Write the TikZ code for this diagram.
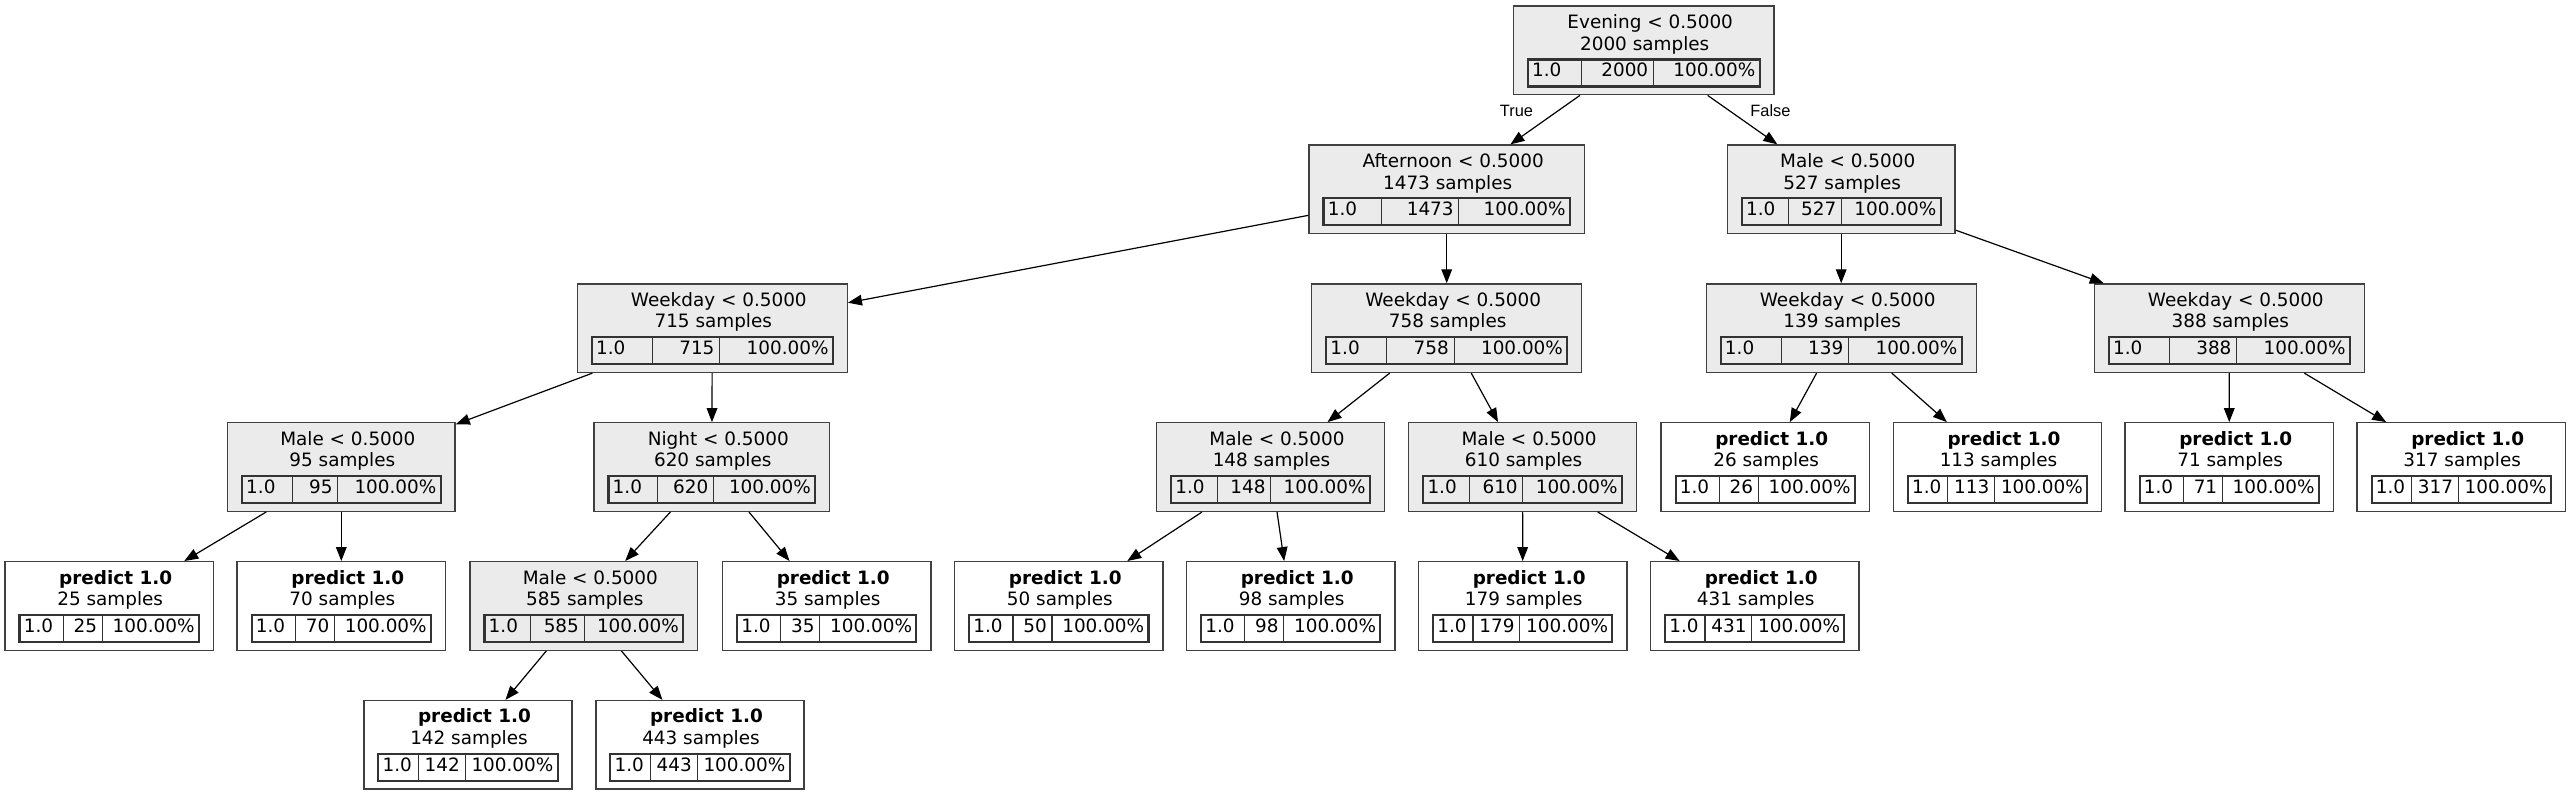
\documentclass[tikz,border=0pt]{standalone}
\usepackage{fontspec}
\setmainfont{DejaVu Sans}
\newfontfamily\edgefont{Liberation Sans}
\usetikzlibrary{arrows.meta, positioning, calc}

\newcommand{\treefont}{\fontsize{13.8pt}{16pt}\selectfont}
\newcommand{\empx}{18.4}% one em of \treefont, in pixels

% one box of the tree: name, style, x, level, width, title, count
\newcommand{\treebox}[7]{%
  \pgfmathsetmacro\ytop{-5.5-138.88*#4}
  \node[#2, minimum width=#5*0.75pt, anchor=north] (#1) at (#3,\ytop) {};
  % DejaVu digits are 0.636em wide
  \pgfmathsetmacro\wa{1.59*\empx}
  \pgfmathsetmacro\wb{(floor(log10(#7)+0.0001)+1)*0.636*\empx}
  \pgfmathsetmacro\wc{4.448*\empx}
  \pgfmathsetmacro\tabR{(#5-27)/2}
  \pgfmathsetmacro\tabL{-\tabR}
  \pgfmathsetmacro\cellx{(#5-27-\wa-\wb-\wc)/3}
  \pgfmathsetmacro\divA{\tabL+\wa+\cellx}
  \pgfmathsetmacro\divB{\divA+\wb+\cellx}
  \begin{scope}[shift={(#1.north)}]
    \node[txt] (#1-title) at (6.5,-23) {#6};
    \node[txt] (#1-n) at (1,-44.7) {#7 samples};
    \draw[cellrule] (\divA,-53) -- (\divA,-82) (\divB,-53) -- (\divB,-82);
    \draw[tabrule] (\tabL+1,-54) rectangle (\tabR-1,-81);
    \node[txt, anchor=base west] (#1-c1) at (\tabL+5,-71.5) {1.0};
    \node[txt, anchor=base east] (#1-c2) at (\divB-5,-71.5) {#7};
    \node[txt, anchor=base east] (#1-c3) at (\tabR-5,-71.5) {100.00\%};
  \end{scope}
}

\begin{document}
\begin{tikzpicture}[x=0.75pt, y=0.75pt,
    split/.style={rectangle, draw=black!75, line width=1pt, fill=black!8, minimum height=66.4pt, inner sep=0pt},
    leaf/.style={split, fill=white},
    txt/.style={inner sep=0pt, anchor=base, font=\treefont},
    tabrule/.style={draw=black!80, line width=1.6pt},
    cellrule/.style={draw=black!80, line width=0.8pt},
    arrowlink/.style={-{Triangle[length=10.5pt, width=8pt]}, line width=0.9pt},
    branch/.style={inner sep=0pt, anchor=base, font=\edgefont\fontsize{12.3pt}{14pt}\selectfont}]
  \path[fill=white, use as bounding box] (0,0) rectangle (2571,-795);

  % decision nodes
  \foreach \name/\x/\lvl/\w/\title/\n in {
      root/1643.7/0/260.7/Evening < 0.5000/2000,
      aft/1446.7/1/275.3/Afternoon < 0.5000/1473,
      m527/1841.2/1/227.7/Male < 0.5000/527,
      w715/712.3/2/270/Weekday < 0.5000/715,
      w758/1446.7/2/270/Weekday < 0.5000/758,
      w139/1841.2/2/270/Weekday < 0.5000/139,
      w388/2229.3/2/270/Weekday < 0.5000/388,
      m95/341.3/3/227.7/Male < 0.5000/95,
      n620/711.8/3/235.7/Night < 0.5000/620,
      m148/1270.5/3/227.7/Male < 0.5000/148,
      m610/1522.6/3/227.7/Male < 0.5000/610,
      m585/583.8/4/227.7/Male < 0.5000/585} {
    \treebox{\name}{split}{\x}{\lvl}{\w}{\title}{\n}
  }

  % leaves
  \foreach \name/\x/\lvl/\n in {
      p26/1765.2/3/26, p113/1997.5/3/113, p71/2229.2/3/71, p317/2461.2/3/317,
      p25/109.2/4/25, p70/341.3/4/70, p35/826.7/4/35, p50/1058.8/4/50,
      p98/1290.7/4/98, p179/1522.7/4/179, p431/1754.7/4/431,
      p142/468/5/142, p443/700/5/443} {
    \treebox{\name}{leaf}{\x}{\lvl}{208.3}{\bfseries predict 1.0}{\n}
  }

  \foreach \a/\b in {root/aft, root/m527, aft/w715, aft/w758, m527/w139, m527/w388,
      w715/m95, w715/n620, w758/m148, w758/m610, w139/p26, w139/p113,
      w388/p71, w388/p317, m95/p25, m95/p70, n620/m585, n620/p35,
      m148/p50, m148/p98, m610/p179, m610/p431, m585/p142, m585/p443} {
    \draw[arrowlink] (\a) -- (\b);
  }

  \node[branch] (true-lbl) at (1516.5,-117) {True};
  \node[branch] (false-lbl) at (1770.5,-117) {False};
\end{tikzpicture}
\end{document}
